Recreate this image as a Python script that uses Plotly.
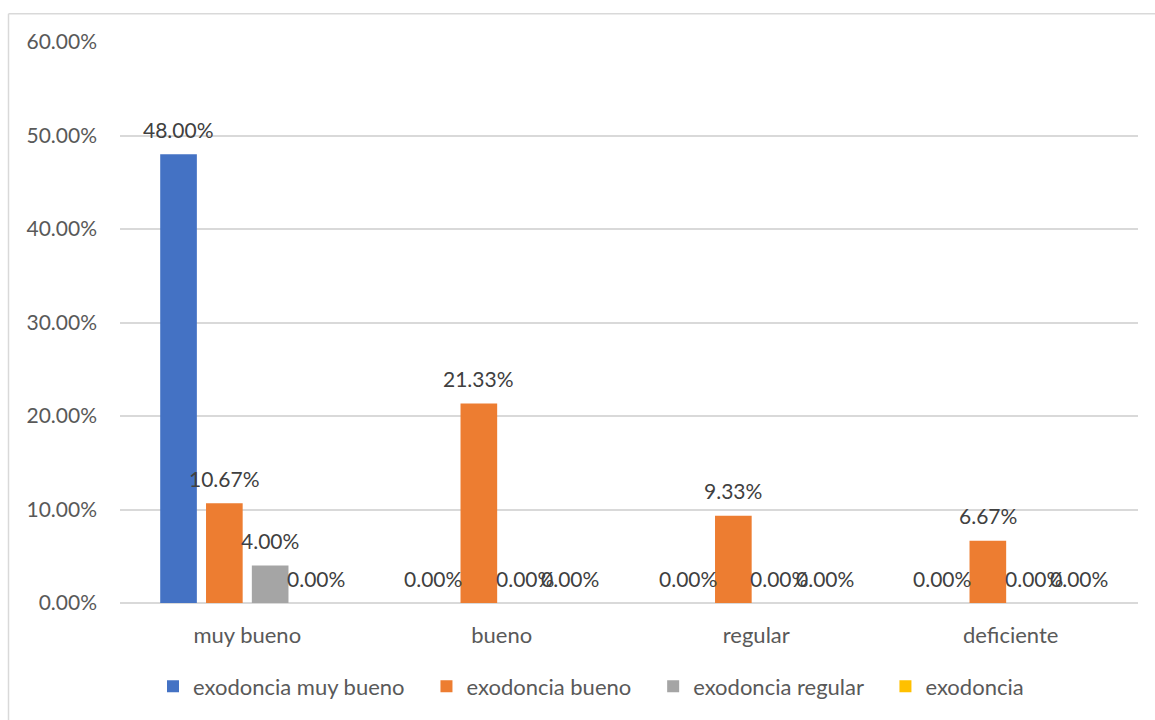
import plotly.graph_objects as go

# Categories and series (percentages)
categories = ["muy bueno", "bueno", "regular", "deficiente"]
series_names = ["exodoncia muy bueno", "exodoncia bueno", "exodoncia regular", "exodoncia"]
v_muy_bueno = [48.00, 0.00, 0.00, 0.00]
v_bueno = [10.67, 21.33, 9.33, 6.67]
v_regular = [4.00, 0.00, 0.00, 0.00]
v_exodoncia = [0.00, 0.00, 0.00, 0.00]
y_ticks = [0, 10, 20, 30, 40, 50, 60]

series_values = [v_muy_bueno, v_bueno, v_regular, v_exodoncia]
colors = ["#4472C4", "#ED7D31", "#A5A5A5", "#FFC000"]

FONT = "Lato"
NUM_SIZE = 21
TXT_SIZE = 22
W, H = 1155, 720
ML, MR, MT, MB = 120, 17, 42, 114
BARGAP, GROUPGAP = 0.28, 0.2
LEGEND_PAD = "\u00a0" * 3  # extra spacing between legend entries

fig = go.Figure()
for k, (name, vals, col) in enumerate(zip(series_names, series_values, colors)):
    label = name + (LEGEND_PAD if k < len(series_names) - 1 else "")
    fig.add_trace(go.Bar(
        x=categories, y=vals, name=label,
        marker=dict(color=col, line=dict(width=0)),
    ))

# Data labels above each bar, positioned per series slot within the group
plot_w = W - ML - MR
n_series = len(series_values)
slot = plot_w / len(categories) * (1 - BARGAP) / n_series
annotations = []
for i, vals in enumerate(series_values):
    dx = (i - (n_series - 1) / 2) * slot
    for cat, v in zip(categories, vals):
        annotations.append(dict(
            x=cat, y=v, xref="x", yref="y", text=f"{v:.2f}%",
            showarrow=False, xshift=dx, yshift=25,
            xanchor="center", yanchor="middle",
            font=dict(family=FONT, size=NUM_SIZE, color="#404040"),
        ))

# Chart-area border (top and left edges)
plot_h = H - MT - MB
def px_x(px):
    return (px - ML) / plot_w
def px_y(py):
    return (H - MB - py) / plot_h

shapes = [
    dict(type="line", xref="paper", yref="paper",
         x0=px_x(8.5), x1=px_x(1160), y0=px_y(13.5), y1=px_y(13.5),
         line=dict(color="#D9D9D9", width=1.5)),
    dict(type="line", xref="paper", yref="paper",
         x0=px_x(8.5), x1=px_x(8.5), y0=px_y(13.5), y1=px_y(740),
         line=dict(color="#D9D9D9", width=1.5)),
]

fig.update_layout(
    width=W, height=H,
    margin=dict(l=ML, r=MR, t=MT, b=MB, pad=0),
    paper_bgcolor="white", plot_bgcolor="white",
    barmode="group", bargap=BARGAP, bargroupgap=GROUPGAP,
    font=dict(family=FONT, size=TXT_SIZE, color="#595959"),
    showlegend=True,
    legend=dict(
        orientation="h", x=px_x(591), xanchor="center", y=px_y(690), yanchor="middle",
        font=dict(family=FONT, size=TXT_SIZE, color="#595959"),
        itemwidth=30, tracegroupgap=0,
    ),
    annotations=annotations,
    shapes=shapes,
)
fig.update_xaxes(
    showgrid=False, showline=False, ticks="",
    tickfont=dict(family=FONT, size=TXT_SIZE, color="#595959"),
    ticklabelstandoff=17,
)
fig.update_yaxes(
    range=[0, 60], tickvals=y_ticks,
    ticktext=[f"{t:.2f}%" for t in y_ticks],
    showgrid=True, gridcolor="#D9D9D9", gridwidth=1.5,
    zeroline=True, zerolinecolor="#D9D9D9", zerolinewidth=1.5,
    showline=False, ticks="",
    tickfont=dict(family=FONT, size=NUM_SIZE, color="#595959"),
    ticklabelstandoff=22,
)

fig.write_html("out.html")
